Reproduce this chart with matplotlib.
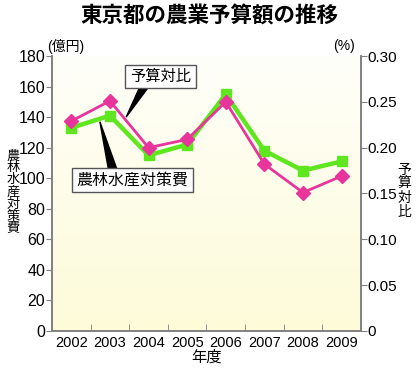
import numpy as np
import matplotlib
matplotlib.use("Agg")
import matplotlib.pyplot as plt
from matplotlib.patches import Polygon

plt.rcParams['font.family'] = ['Liberation Sans', 'Noto Sans CJK JP', 'DejaVu Sans']

# data
years = [2002, 2003, 2004, 2005, 2006, 2007, 2008, 2009]
budget = [133, 141, 115, 122, 155, 118, 105, 111]          # 農林水産対策費 (億円)
ratio = [0.229, 0.251, 0.200, 0.209, 0.250, 0.182, 0.151, 0.169]  # 予算対比 (%)
left_ticks = [0, 20, 40, 60, 80, 100, 120, 140, 160, 180]
right_ticks = [0, 0.05, 0.10, 0.15, 0.20, 0.25, 0.30]
right_labels = ['0', '0.05', '0.10', '0.15', '0.20', '0.25', '0.30']

green = '#5ee61e'
pink = '#e8359c'
spine_col = '#808080'

fig = plt.figure(figsize=(4.18, 3.71), dpi=100)
ax = fig.add_axes([0.1244, 0.108, 0.739, 0.741])
ax2 = ax.twinx()

# soft yellow background gradient
grad = np.linspace(1, 0, 256).reshape(-1, 1)
cmap = matplotlib.colors.LinearSegmentedColormap.from_list('bg', ['#fffffa', '#fdfbd8'])
ax.imshow(grad, extent=[2001.5, 2009.5, 0, 180], aspect='auto', cmap=cmap,
          origin='lower', zorder=0)

ax.plot(years, budget, color=green, lw=3.2, marker='s', ms=7.5, zorder=3)
ax2.plot(years, ratio, color=pink, lw=2, marker='D', ms=7.5, zorder=4)

ax.set_xlim(2001.5, 2009.5)
ax.set_ylim(0, 180)
ax2.set_ylim(0, 0.30)

ax.set_yticks(left_ticks)
ax.set_yticklabels([str(t) for t in left_ticks], fontsize=11.5)
ax2.set_yticks(right_ticks)
ax2.set_yticklabels(right_labels, fontsize=11)

ax.set_xticks(years)
ax.set_xticklabels([str(y) for y in years], fontsize=10.5)
ax.set_xticks([y + 0.5 for y in years[:-1]], minor=True)
ax.tick_params(axis='x', which='major', length=0, pad=4)
ax.tick_params(axis='x', which='minor', direction='in', length=5, color=spine_col)
ax.tick_params(axis='y', length=4, color=spine_col, pad=1)
ax2.tick_params(axis='y', length=4, color=spine_col, pad=1)

for a in (ax, ax2):
    a.spines['top'].set_visible(False)
    for s in ('left', 'right', 'bottom'):
        a.spines[s].set_color(spine_col)
        a.spines[s].set_linewidth(1.2)

# titles and axis texts
fig.text(0.5, 0.953, '東京都の農業予算額の推移', ha='center', va='center',
         fontsize=15.5, fontweight='bold')
fig.text(0.113, 0.875, '(億円)', ha='left', va='center', fontsize=10)
fig.text(0.797, 0.875, '(%)', ha='left', va='center', fontsize=10)
fig.text(0.031, 0.481, '\n'.join('農林水産対策費'), ha='center', va='center',
         fontsize=9.5, linespacing=1.0)
fig.text(0.968, 0.486, '\n'.join('予算対比'), ha='center', va='center',
         fontsize=10, linespacing=1.0)
ax.set_xlabel('年度', fontsize=11, labelpad=0)

# callout labels with black wedge pointers
ax.add_patch(Polygon([[2003.76, 159], [2003.98, 159], [2003.42, 140]],
                     closed=True, color='black', zorder=5))
ax.text(2004.31, 166.6, '予算対比', ha='center', va='center', fontsize=11, zorder=6,
        bbox=dict(boxstyle='square,pad=0.3', fc='white', ec='#555555', lw=1))
ax.add_patch(Polygon([[2002.96, 106], [2003.18, 106], [2002.74, 137]],
                     closed=True, color='black', zorder=5))
ax.text(2003.58, 98.8, '農林水産対策費', ha='center', va='center', fontsize=11.5, zorder=6,
        bbox=dict(boxstyle='square,pad=0.3', fc='white', ec='#555555', lw=1))

fig.savefig('out.png', dpi=100)
